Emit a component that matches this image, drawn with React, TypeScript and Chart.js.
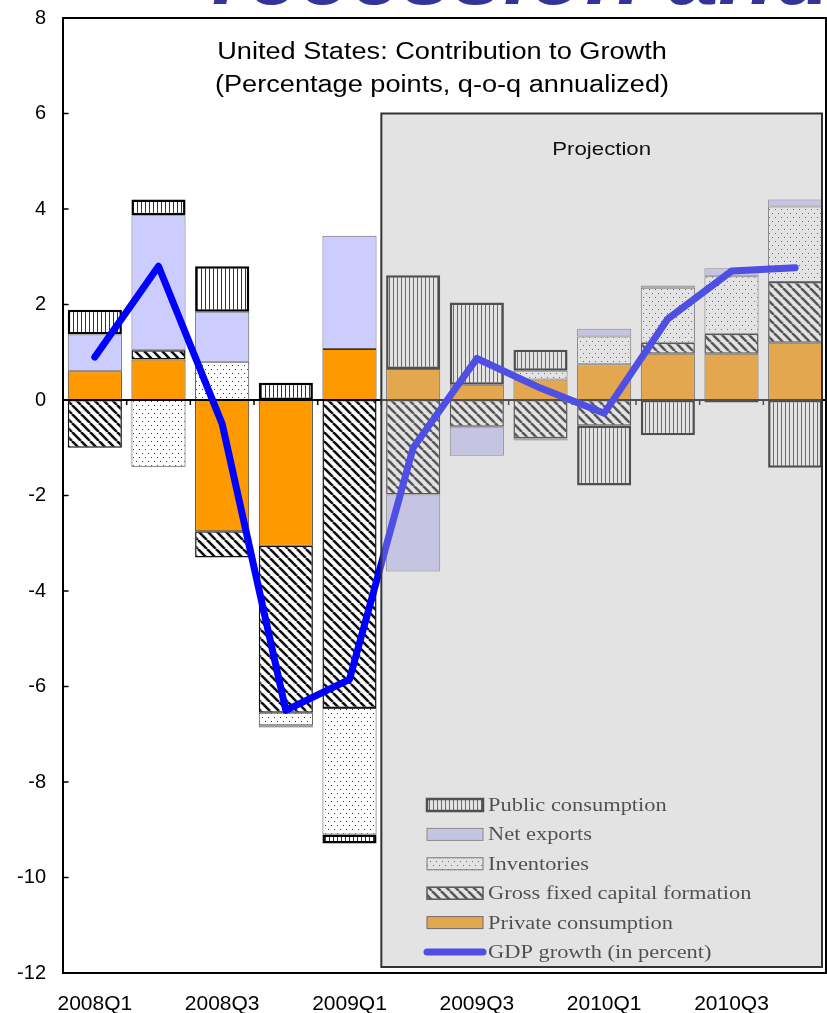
import React, { useEffect, useRef } from 'react';
import { Chart, registerables } from 'chart.js';

Chart.register(...registerables);

// ---------- data ----------
const quarters = ['2008Q1', '2008Q2', '2008Q3', '2008Q4', '2009Q1', '2009Q2', '2009Q3', '2009Q4', '2010Q1', '2010Q2', '2010Q3', '2010Q4'];
const privateConsumption = [0.6, 0.85, -2.75, -3.05, 1.07, 0.65, 0.32, 0.43, 0.75, 0.97, 0.97, 1.2];
const grossFixedCapital = [-1.0, 0.19, -0.55, -3.5, -6.45, -1.98, -0.56, -0.8, -0.54, 0.23, 0.42, 1.27];
const inventories = [0, -1.4, 0.8, -0.26, -2.65, 0, 0, 0.18, 0.58, 1.15, 1.2, 1.58];
const netExports = [0.77, 2.83, 1.05, -0.05, 2.37, -1.61, -0.61, -0.05, 0.16, 0.05, 0.17, 0.15];
const publicConsumption = [0.52, 0.33, 0.95, 0.36, -0.19, 1.96, 1.72, 0.44, -1.25, -0.74, -0.05, -1.42];
const gdpGrowth = [0.9, 2.8, -0.5, -6.5, -5.85, -1.0, 0.87, 0.25, -0.28, 1.7, 2.7, 2.77];

const shownQuarterLabels = ['2008Q1', '2008Q3', '2009Q1', '2009Q3', '2010Q1', '2010Q3'];
const yMin = -12;
const yMax = 8;
const yStep = 2;
const projectionFirstQuarter = '2009Q2';
const projectionTopValue = 6;

const titleLines = ['United States: Contribution to Growth', '(Percentage points, q-o-q annualized)'];
const projectionLabel = 'Projection';
const headline = 'recession and';

const seriesNames = {
  priv: 'Private consumption',
  gfcf: 'Gross fixed capital formation',
  inv: 'Inventories',
  nx: 'Net exports',
  pub: 'Public consumption',
  gdp: 'GDP growth (in percent)',
};

// ---------- helpers ----------
const SANS = '"Liberation Sans", Arial, sans-serif';
const SERIF = '"Liberation Serif", "Times New Roman", serif';

function makePattern(w: number, h: number, draw: (g: CanvasRenderingContext2D) => void) {
  const c = document.createElement('canvas');
  c.width = w;
  c.height = h;
  const g = c.getContext('2d') as CanvasRenderingContext2D;
  g.fillStyle = '#ffffff';
  g.fillRect(0, 0, w, h);
  draw(g);
  return g.createPattern(c, 'repeat') as CanvasPattern;
}

function nz(arr: number[]) {
  return arr.map((v) => (v === 0 ? null : v));
}

function stretchText(ctx: CanvasRenderingContext2D, text: string, x: number, y: number, sx: number, align: CanvasTextAlign) {
  ctx.save();
  ctx.translate(x, y);
  ctx.scale(sx, 1);
  ctx.textAlign = align;
  ctx.fillText(text, 0, 0);
  ctx.restore();
}

export default function App() {
  const ref = useRef<HTMLCanvasElement | null>(null);

  useEffect(() => {
    const canvas = ref.current;
    if (!canvas) return;

    const vStripes = makePattern(4, 4, (g) => {
      g.fillStyle = '#333';
      g.fillRect(1, 0, 1, 4);
    });
    const dots = makePattern(6, 8, (g) => {
      g.fillStyle = '#333';
      g.fillRect(1, 1, 1, 1);
      g.fillRect(4, 5, 1, 1);
    });
    const diag = makePattern(9, 9, (g) => {
      g.strokeStyle = '#111';
      g.lineWidth = 2.6;
      for (const o of [-9, 0, 9]) {
        g.beginPath();
        g.moveTo(o, 0);
        g.lineTo(o + 9, 9);
        g.stroke();
      }
    });

    const ORANGE = '#ff9900';
    const LAVENDER = '#ccccff';
    const BLUE = '#0000ff';

    const styles = {
      priv: { bg: ORANGE as any, border: '#333', bw: 1 },
      gfcf: { bg: diag as any, border: '#111', bw: 1.5 },
      inv: { bg: dots as any, border: '#444', bw: 1 },
      nx: { bg: LAVENDER as any, border: '#666', bw: 1 },
      pub: { bg: vStripes as any, border: '#000', bw: 2.5 },
    };

    const barDs = (key: keyof typeof styles, data: number[]) => ({
      type: 'bar' as const,
      label: seriesNames[key],
      data: nz(data),
      backgroundColor: styles[key].bg,
      borderColor: styles[key].border,
      borderWidth: styles[key].bw,
      borderSkipped: false as const,
      stack: 'contrib',
      order: 1,
      barPercentage: 0.85,
      categoryPercentage: 1,
    });

    const projectionPlugin = {
      id: 'projectionDecor',
      beforeDatasetDraw(chart: any, args: any) {
        if (args.index !== 5) return;
        const { ctx, chartArea } = chart;
        const ys = chart.scales.y;
        const xs = chart.scales.x;
        const y0 = ys.getPixelForValue(0);
        ctx.save();
        ctx.strokeStyle = '#000';
        ctx.lineWidth = 2;
        ctx.beginPath();
        ctx.moveTo(chartArea.left, y0);
        ctx.lineTo(chartArea.right, y0);
        ctx.stroke();
        const half = (xs.getPixelForValue(1) - xs.getPixelForValue(0)) / 2;
        ctx.lineWidth = 1.5;
        for (let i = 0; i <= quarters.length; i++) {
          const x = xs.getPixelForValue(i) - half;
          ctx.beginPath();
          ctx.moveTo(x, y0);
          ctx.lineTo(x, y0 + 5);
          ctx.stroke();
        }
        ctx.restore();
      },
      afterDatasetsDraw(chart: any) {
        const { ctx, chartArea } = chart;
        const ys = chart.scales.y;
        const xs = chart.scales.x;
        const half = (xs.getPixelForValue(1) - xs.getPixelForValue(0)) / 2;
        const projIdx = quarters.indexOf(projectionFirstQuarter);
        const bx = xs.getPixelForValue(projIdx) - half;
        const by = ys.getPixelForValue(projectionTopValue);
        const bx2 = chartArea.right - 5;
        const by2 = chartArea.bottom - 6;

        ctx.save();
        // legend (under the shade)
        const items: { key: string; kind: string }[] = [
          { key: 'pub', kind: 'bar' },
          { key: 'nx', kind: 'bar' },
          { key: 'inv', kind: 'bar' },
          { key: 'gfcf', kind: 'bar' },
          { key: 'priv', kind: 'bar' },
          { key: 'gdp', kind: 'line' },
        ];
        const lx = 427;
        const ly0 = 805;
        const lstep = 29.4;
        ctx.font = `19px ${SERIF}`;
        ctx.textBaseline = 'middle';
        items.forEach((it, i) => {
          const yy = ly0 + i * lstep;
          if (it.kind === 'bar') {
            const st = (styles as any)[it.key];
            ctx.fillStyle = st.bg;
            ctx.fillRect(lx, yy - 6, 56, 12);
            ctx.strokeStyle = st.border;
            ctx.lineWidth = st.bw;
            ctx.strokeRect(lx, yy - 6, 56, 12);
          } else {
            ctx.strokeStyle = BLUE;
            ctx.lineWidth = 7;
            ctx.lineCap = 'round';
            ctx.beginPath();
            ctx.moveTo(lx, yy);
            ctx.lineTo(lx + 56, yy);
            ctx.stroke();
          }
          ctx.fillStyle = '#000';
          stretchText(ctx, (seriesNames as any)[it.key], lx + 61, yy + 1, 1.18, 'left');
        });

        // projection shade
        ctx.fillStyle = 'rgba(189,189,189,0.42)';
        ctx.fillRect(bx, by, bx2 - bx, by2 - by);
        ctx.strokeStyle = '#333';
        ctx.lineWidth = 2;
        ctx.strokeRect(bx, by, bx2 - bx, by2 - by);

        ctx.fillStyle = '#111';
        ctx.font = `19px ${SANS}`;
        ctx.textBaseline = 'middle';
        stretchText(ctx, projectionLabel, (bx + bx2) / 2, by + 36, 1.17, 'center');

        // title
        ctx.font = `23px ${SANS}`;
        ctx.fillStyle = '#000';
        stretchText(ctx, titleLines[0], 442, 53, 1.18, 'center');
        stretchText(ctx, titleLines[1], 442, 86, 1.18, 'center');

        // frame
        ctx.strokeStyle = '#000';
        ctx.lineWidth = 2;
        ctx.beginPath();
        ctx.moveTo(chartArea.left, chartArea.bottom);
        ctx.lineTo(chartArea.left, chartArea.top);
        ctx.lineTo(chartArea.right - 1, chartArea.top);
        ctx.lineTo(chartArea.right - 1, chartArea.bottom);
        ctx.closePath();
        ctx.stroke();
        ctx.lineWidth = 1.5;
        for (let v = yMin; v <= yMax; v += yStep) {
          const yy = ys.getPixelForValue(v);
          ctx.beginPath();
          ctx.moveTo(chartArea.left, yy);
          ctx.lineTo(chartArea.left + 5, yy);
          ctx.stroke();
        }

        // cropped slide headline at the very top
        ctx.font = `italic bold 92px ${SANS}`;
        ctx.fillStyle = '#333399';
        ctx.textAlign = 'left';
        ctx.textBaseline = 'alphabetic';
        ctx.fillText(headline, 212, 4);
        ctx.restore();
      },
    };

    const chart = new Chart(canvas, {
      data: {
        labels: quarters,
        datasets: [
          barDs('priv', privateConsumption),
          barDs('gfcf', grossFixedCapital),
          barDs('inv', inventories),
          barDs('nx', netExports),
          barDs('pub', publicConsumption),
          {
            type: 'line' as const,
            label: seriesNames.gdp,
            data: gdpGrowth,
            borderColor: BLUE,
            backgroundColor: BLUE,
            borderWidth: 7,
            pointRadius: 0,
            tension: 0,
            borderJoinStyle: 'round' as const,
            borderCapStyle: 'round' as const,
            stack: 'gdp',
            order: -1,
          },
        ] as any,
      },
      options: {
        responsive: false,
        animation: false,
        layout: { padding: { top: 18, left: 0, right: 0, bottom: 0 } },
        plugins: { legend: { display: false }, tooltip: { enabled: false }, title: { display: false } },
        scales: {
          x: {
            stacked: true,
            grid: { display: false, drawTicks: false },
            border: { display: false },
            ticks: {
              autoSkip: false,
              maxRotation: 0,
              color: '#000',
              font: { family: SANS, size: 21 },
              padding: 19,
              callback: (_v: any, i: number) => (shownQuarterLabels.includes(quarters[i]) ? quarters[i] : ''),
            },
            afterFit: (s: any) => {
              s.height = 40;
              s.paddingLeft = 0;
              s.paddingRight = 0;
            },
          },
          y: {
            stacked: true,
            min: yMin,
            max: yMax,
            grid: { display: false, drawTicks: false },
            border: { display: false },
            ticks: {
              stepSize: yStep,
              color: '#000',
              font: { family: SANS, size: 20 },
              padding: 17,
            },
            afterFit: (s: any) => {
              s.width = 63;
              s.paddingTop = 0;
              s.paddingBottom = 0;
            },
          },
        },
      } as any,
      plugins: [projectionPlugin],
    });

    return () => chart.destroy();
  }, []);

  return (
    <div style={{ position: 'absolute', left: 0, top: 0, width: 827, height: 1013, background: '#fff' }}>
      <canvas ref={ref} width={827} height={1013} style={{ display: 'block' }} />
    </div>
  );
}
